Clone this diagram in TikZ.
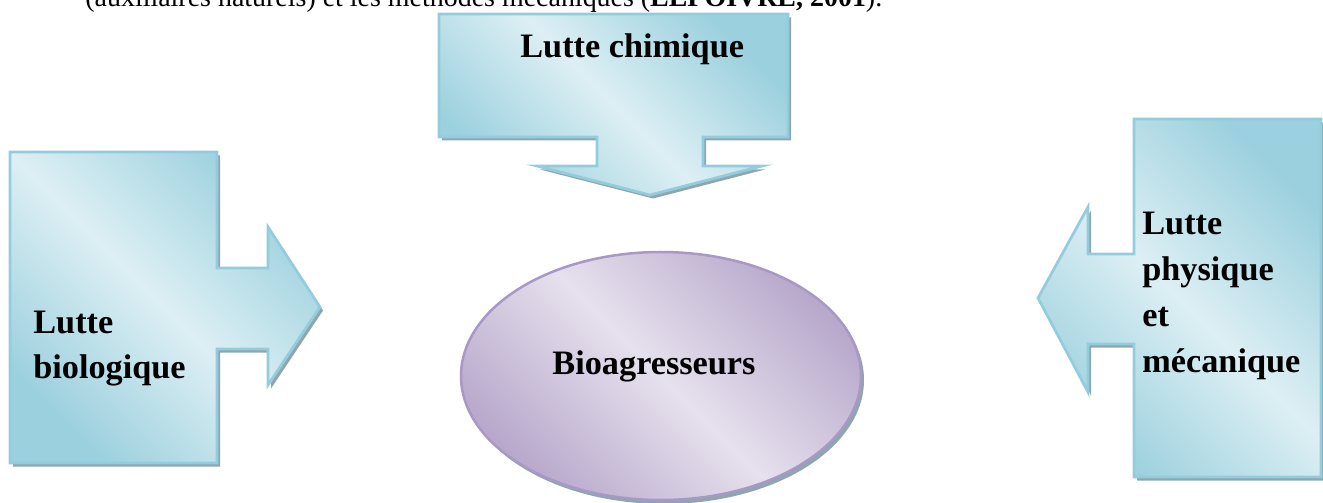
\documentclass[tikz,border=0pt]{standalone}
\usepackage{fontspec}
\setmainfont{Liberation Serif}
\usetikzlibrary{shapes.geometric, shadows, positioning}

\definecolor{aqualine}{HTML}{93CDDD}
\definecolor{aqualight}{HTML}{DDEFF4}
\definecolor{aquadark}{HTML}{9BD0DE}
\definecolor{shadegray}{HTML}{8EA6AE}
\definecolor{lilaline}{HTML}{A898C6}
\definecolor{lilalight}{HTML}{E6E1ED}
\definecolor{liladark}{HTML}{B8A8CC}

\begin{document}
\begin{tikzpicture}[
    x=0.2mm, y=-0.2mm,
    callout/.style={
        draw=aqualine,
        line width=0.55mm,
        shading=axis,
        left color=aquadark,
        right color=aquadark,
        middle color=aqualight,
        shading angle=-45,
        drop shadow={shadow xshift=0.6mm, shadow yshift=-0.7mm,
                     fill=shadegray, opacity=1}
    },
    pill/.style={
        ellipse,
        draw=lilaline,
        line width=0.5mm,
        minimum width=80mm,
        minimum height=49.6mm,
        shading=axis,
        left color=liladark,
        right color=liladark,
        middle color=lilalight,
        shading angle=-45,
        drop shadow={shadow xshift=0.6mm, shadow yshift=-0.8mm,
                     fill=shadegray, opacity=1}
    },
    lbl/.style={
        inner sep=0pt,
        align=left,
        font=\bfseries\fontsize{19.5}{26}\selectfont
    }
]
\useasboundingbox (0,0) rectangle (1323,503);

% line of text cut off by the page
\node (intro) [anchor=base west, inner sep=0pt, font=\fontsize{15.9}{19}\selectfont]
    at (85,7) {(auxiliaires naturels) et les méthodes mécaniques (\textbf{LEPOIVRE, 2001}).};

% callout arrows
\path [callout] (439,14) -- (788,14) -- (788,137) -- (703,137) -- (703,166)
    -- (762,166) -- (650,195) -- (537,166) -- (597,166) -- (597,137)
    -- (439,137) -- cycle;
\path [callout] (10,152) -- (217,152) -- (217,268) -- (268,268) -- (268,227)
    -- (320,307) -- (268,385) -- (268,349) -- (217,349) -- (217,463)
    -- (10,463) -- cycle;
\path [callout] (1134,119) -- (1321,119) -- (1321,477) -- (1134,477)
    -- (1134,344) -- (1088,344) -- (1088,392) -- (1038,298) -- (1088,207)
    -- (1088,254) -- (1134,254) -- cycle;

\node (bioag) [pill] at (661,376) {};

% labels (base = last line)
\node (chim) [lbl, anchor=base west] at (520,58) {Lutte chimique};
\node (bio) [lbl, anchor=base west] at (33,379) {Lutte\\biologique};
\node (phys) [lbl, anchor=base west] at (1142,372) {Lutte\\physique\\et\\mécanique};
\node (bioagtxt) [lbl, anchor=base] at (654,374) {Bioagresseurs};

\end{tikzpicture}
\end{document}
